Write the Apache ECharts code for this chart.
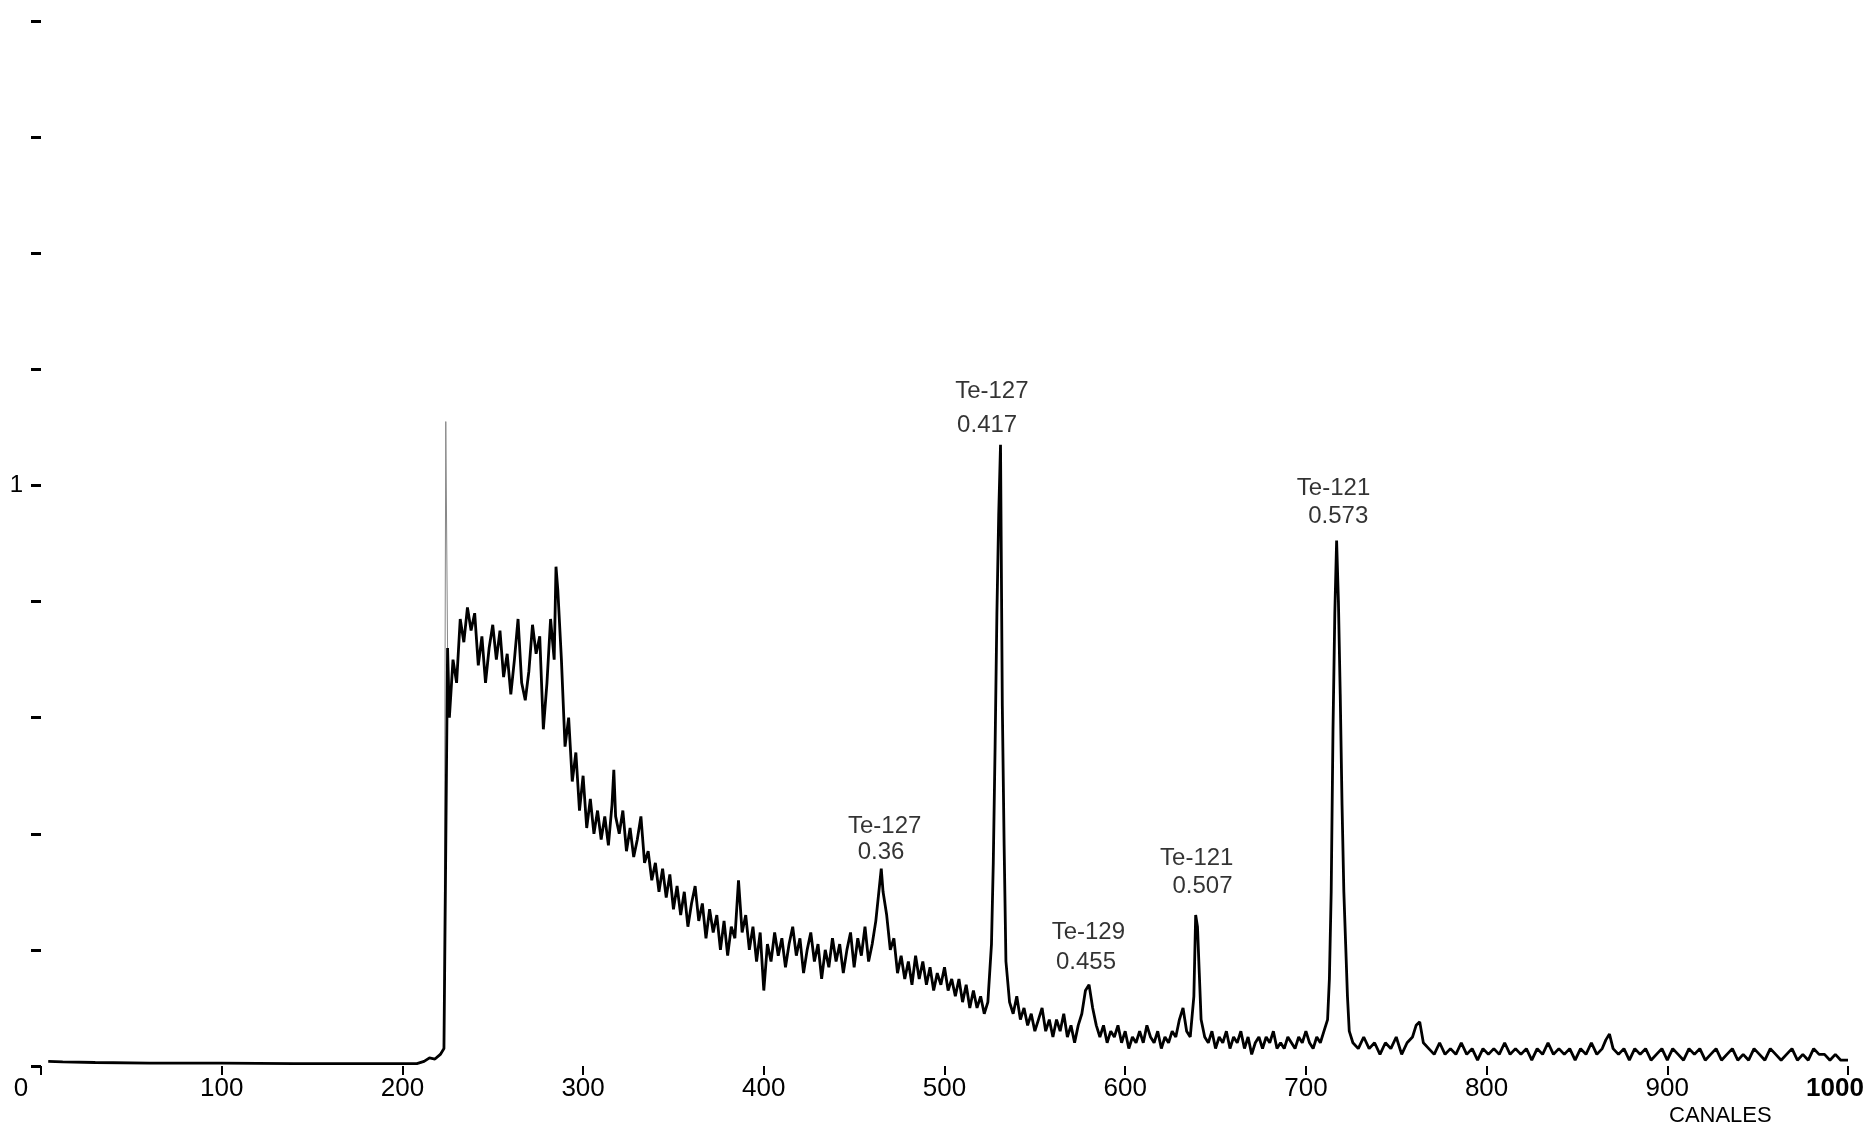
<!DOCTYPE html>
<html>
<head>
<meta charset="utf-8">
<script src="https://cdn.jsdelivr.net/npm/echarts@6/dist/echarts.min.js"></script>
<style>
  html, body { margin: 0; padding: 0; background: #fff; }
  #spectrum { width: 1867px; height: 1123px; }
</style>
</head>
<body>
<div id="spectrum"></div>
<script>
const lowRegion = [
  [4, 0.008], [12, 0.007], [30, 0.006], [60, 0.005], [100, 0.005], [140, 0.004],
  [180, 0.004], [208, 0.004], [212, 0.008], [215, 0.014], [218, 0.012], [221, 0.02], [223, 0.03]
];
// pico fino en el canal 224 (trazo tenue)
const spike = [[223, 0.03], [224, 1.11], [225, 0.72]];
const comptonRegion = [
  [225, 0.72], [226, 0.60], [228, 0.70], [230, 0.66], [232, 0.77], [234, 0.73], [236, 0.79],
  [238, 0.75], [240, 0.78], [242, 0.69], [244, 0.74], [246, 0.66], [248, 0.72], [250, 0.76],
  [252, 0.70], [254, 0.75], [256, 0.67], [258, 0.71], [260, 0.64], [262, 0.70], [264, 0.77],
  [266, 0.66], [268, 0.63], [270, 0.68], [272, 0.76], [274, 0.71], [276, 0.74], [278, 0.58],
  [280, 0.66], [282, 0.77], [284, 0.70], [285, 0.86], [286, 0.82], [288, 0.70], [290, 0.55],
  [292, 0.60], [294, 0.49], [296, 0.54], [298, 0.44], [300, 0.50], [302, 0.41], [304, 0.46],
  [306, 0.40], [308, 0.44], [310, 0.39], [312, 0.43], [314, 0.38], [316, 0.45], [317, 0.51],
  [318, 0.43], [320, 0.40], [322, 0.44], [324, 0.37], [326, 0.41], [328, 0.36], [330, 0.39],
  [332, 0.43], [334, 0.35], [336, 0.37], [338, 0.32], [340, 0.35], [342, 0.30], [344, 0.34],
  [346, 0.29], [348, 0.33], [350, 0.27], [352, 0.31], [354, 0.26], [356, 0.30], [358, 0.24],
  [360, 0.28], [362, 0.31], [364, 0.25], [366, 0.28], [368, 0.22], [370, 0.27], [372, 0.23],
  [374, 0.26], [376, 0.20], [378, 0.25], [380, 0.19], [382, 0.24], [384, 0.22], [386, 0.32],
  [388, 0.23], [390, 0.26], [392, 0.20], [394, 0.24], [396, 0.18], [398, 0.23], [400, 0.13],
  [402, 0.21], [404, 0.18], [406, 0.23], [408, 0.19], [410, 0.22], [412, 0.17], [414, 0.21],
  [416, 0.24], [418, 0.19], [420, 0.22], [422, 0.16], [424, 0.20], [426, 0.23], [428, 0.18],
  [430, 0.21], [432, 0.15], [434, 0.20], [436, 0.17], [438, 0.22], [440, 0.18], [442, 0.21],
  [444, 0.16], [446, 0.20], [448, 0.23], [450, 0.17], [452, 0.22], [454, 0.19], [456, 0.24],
  [458, 0.18], [460, 0.21], [462, 0.25], [464, 0.31], [465, 0.34], [466, 0.30], [468, 0.26],
  [470, 0.20], [472, 0.22], [474, 0.16], [476, 0.19], [478, 0.15], [480, 0.18], [482, 0.14],
  [484, 0.19], [486, 0.15], [488, 0.18], [490, 0.14], [492, 0.17], [494, 0.13], [496, 0.16],
  [498, 0.14], [500, 0.17], [502, 0.13], [504, 0.15], [506, 0.12], [508, 0.15], [510, 0.11],
  [512, 0.14], [514, 0.10], [516, 0.13], [518, 0.10], [520, 0.12], [522, 0.09], [524, 0.11],
  [525, 0.11], [526, 0.21], [527, 0.35], [528, 0.55], [529, 0.78], [530, 0.95], [531, 1.07],
  [532, 0.62], [533, 0.38], [534, 0.18], [536, 0.11]
];
const tailRegion = [
  [538, 0.09], [540, 0.12], [542, 0.08], [544, 0.10], [546, 0.07], [548, 0.09], [550, 0.06],
  [552, 0.08], [554, 0.10], [556, 0.06], [558, 0.08], [560, 0.05], [562, 0.08], [564, 0.06],
  [566, 0.09], [568, 0.05], [570, 0.07], [572, 0.04], [574, 0.07], [576, 0.09], [578, 0.13],
  [580, 0.14], [582, 0.10], [584, 0.07], [586, 0.05], [588, 0.07], [590, 0.04], [592, 0.06],
  [594, 0.05], [596, 0.07], [598, 0.04], [600, 0.06], [602, 0.03], [604, 0.05], [606, 0.04],
  [608, 0.06], [610, 0.04], [612, 0.07], [614, 0.05], [616, 0.04], [618, 0.06], [620, 0.03],
  [622, 0.05], [624, 0.04], [626, 0.06], [628, 0.05], [630, 0.08], [632, 0.10], [634, 0.06],
  [636, 0.05], [638, 0.12], [639, 0.26], [640, 0.24], [641, 0.16], [642, 0.08], [644, 0.05],
  [646, 0.04], [648, 0.06], [650, 0.03], [652, 0.05], [654, 0.04], [656, 0.06], [658, 0.03],
  [660, 0.05], [662, 0.04], [664, 0.06], [666, 0.03], [668, 0.05], [670, 0.02], [672, 0.04],
  [674, 0.05], [676, 0.03], [678, 0.05], [680, 0.04], [682, 0.06], [684, 0.03], [686, 0.04],
  [688, 0.03], [690, 0.05], [692, 0.04], [694, 0.03], [696, 0.05], [698, 0.04], [700, 0.06],
  [702, 0.04], [704, 0.03], [706, 0.05], [708, 0.04], [710, 0.06], [712, 0.08], [713, 0.15],
  [714, 0.30], [715, 0.58], [716, 0.78], [717, 0.905], [718, 0.80], [719, 0.64], [720, 0.45],
  [721, 0.30], [722, 0.21], [723, 0.12], [724, 0.06], [726, 0.04], [729, 0.03], [732, 0.05],
  [735, 0.03], [738, 0.04], [741, 0.02], [744, 0.04], [747, 0.03], [750, 0.05], [753, 0.02],
  [756, 0.04], [759, 0.05], [761, 0.07], [763, 0.076], [765, 0.04], [768, 0.03], [771, 0.02],
  [774, 0.04], [777, 0.02], [780, 0.03], [783, 0.02], [786, 0.04], [789, 0.02], [792, 0.03],
  [795, 0.01], [798, 0.03], [801, 0.02], [804, 0.03], [807, 0.02], [810, 0.04], [813, 0.02],
  [816, 0.03], [819, 0.02], [822, 0.03], [825, 0.01], [828, 0.03], [831, 0.02], [834, 0.04],
  [837, 0.02], [840, 0.03], [843, 0.02], [846, 0.03], [849, 0.01], [852, 0.03], [855, 0.02],
  [858, 0.04], [861, 0.02], [864, 0.03], [866, 0.045], [868, 0.055], [870, 0.03], [873, 0.02],
  [876, 0.03], [879, 0.01], [882, 0.03], [885, 0.02], [888, 0.03], [891, 0.01], [894, 0.02],
  [897, 0.03], [900, 0.01], [903, 0.03], [906, 0.02], [909, 0.01], [912, 0.03], [915, 0.02],
  [918, 0.03], [921, 0.01], [924, 0.02], [927, 0.03], [930, 0.01], [933, 0.02], [936, 0.03],
  [939, 0.01], [942, 0.02], [945, 0.01], [948, 0.03], [951, 0.02], [954, 0.01], [957, 0.03],
  [960, 0.02], [963, 0.01], [966, 0.02], [969, 0.03], [972, 0.01], [975, 0.02], [978, 0.01],
  [981, 0.03], [984, 0.02], [987, 0.02], [990, 0.01], [993, 0.02], [996, 0.01], [1000, 0.01]
];

// etiquetas de picos
const peakNames = ['Te-127', 'Te-127', 'Te-129', 'Te-121', 'Te-121'];
const peakEnergies = ['0.36', '0.417', '0.455', '0.507', '0.573'];
// donde va cada texto [canal, cuentas]
const nameAt = [[466.9, 0.413], [526.2, 1.162], [579.6, 0.230], [639.6, 0.357], [715.3, 0.995]];
const energyAt = [[464.9, 0.368], [523.6, 1.104], [578.3, 0.179], [642.8, 0.310], [717.9, 0.946]];

const FONT = '"Liberation Sans", "DejaVu Sans", sans-serif';

const trace = lowRegion.concat(comptonRegion, tailRegion);

const textPoints = [];
peakNames.forEach((n, i) => {
  textPoints.push({ value: nameAt[i], label: { formatter: n } });
  textPoints.push({ value: energyAt[i], label: { formatter: peakEnergies[i] } });
});

const option = {
  animation: false,
  backgroundColor: '#fff',
  title: {
    text: 'CANALES',
    left: 1664,
    top: 1100,
    textStyle: { fontFamily: FONT, fontSize: 22, fontWeight: 'normal', color: '#000' }
  },
  grid: { left: 41, right: 19, top: 21, bottom: 57, containLabel: false, outerBoundsMode: 'none' },
  xAxis: {
    type: 'value',
    min: 0,
    max: 1000,
    interval: 100,
    axisLine: { show: false },
    splitLine: { show: false },
    axisTick: { show: true, length: 9, lineStyle: { color: '#000', width: 2 } },
    axisLabel: {
      margin: 10,
      fontFamily: FONT,
      fontSize: 26,
      color: '#000',
      // el 0 y el 1000 van corridos como en el original
      formatter: function (v) {
        if (v === 0) return '{z|0}';
        if (v === 1000) return '{k|1000}';
        return String(v);
      },
      rich: {
        z: { fontFamily: FONT, fontSize: 26, color: '#000', padding: [0, 40, 0, 0] },
        k: { fontFamily: FONT, fontSize: 26, color: '#000', fontWeight: 'bold', padding: [0, 26, 0, 0] }
      }
    }
  },
  yAxis: {
    type: 'value',
    min: 0,
    max: 1.8,
    interval: 0.2,
    axisLine: { show: false },
    splitLine: { show: false },
    axisTick: { show: true, length: 10, lineStyle: { color: '#000', width: 3 } },
    axisLabel: {
      margin: 18,
      fontFamily: FONT,
      fontSize: 24,
      color: '#000',
      formatter: function (v) { return Math.abs(v - 1) < 1e-6 ? '1' : ''; }
    }
  },
  series: [
    {
      type: 'line',
      data: spike,
      showSymbol: false,
      lineStyle: { color: '#888', width: 1 },
      z: 1
    },
    {
      type: 'line',
      data: trace,
      showSymbol: false,
      lineStyle: { color: '#000', width: 2.8 },
      z: 2
    },
    {
      type: 'scatter',
      data: textPoints,
      symbolSize: 0,
      label: {
        show: true,
        position: 'inside',
        fontFamily: FONT,
        fontSize: 24,
        color: '#000'
      },
      z: 3
    }
  ]
};

const myChart = echarts.init(document.getElementById('spectrum'));
myChart.setOption(option);
</script>
</body>
</html>
